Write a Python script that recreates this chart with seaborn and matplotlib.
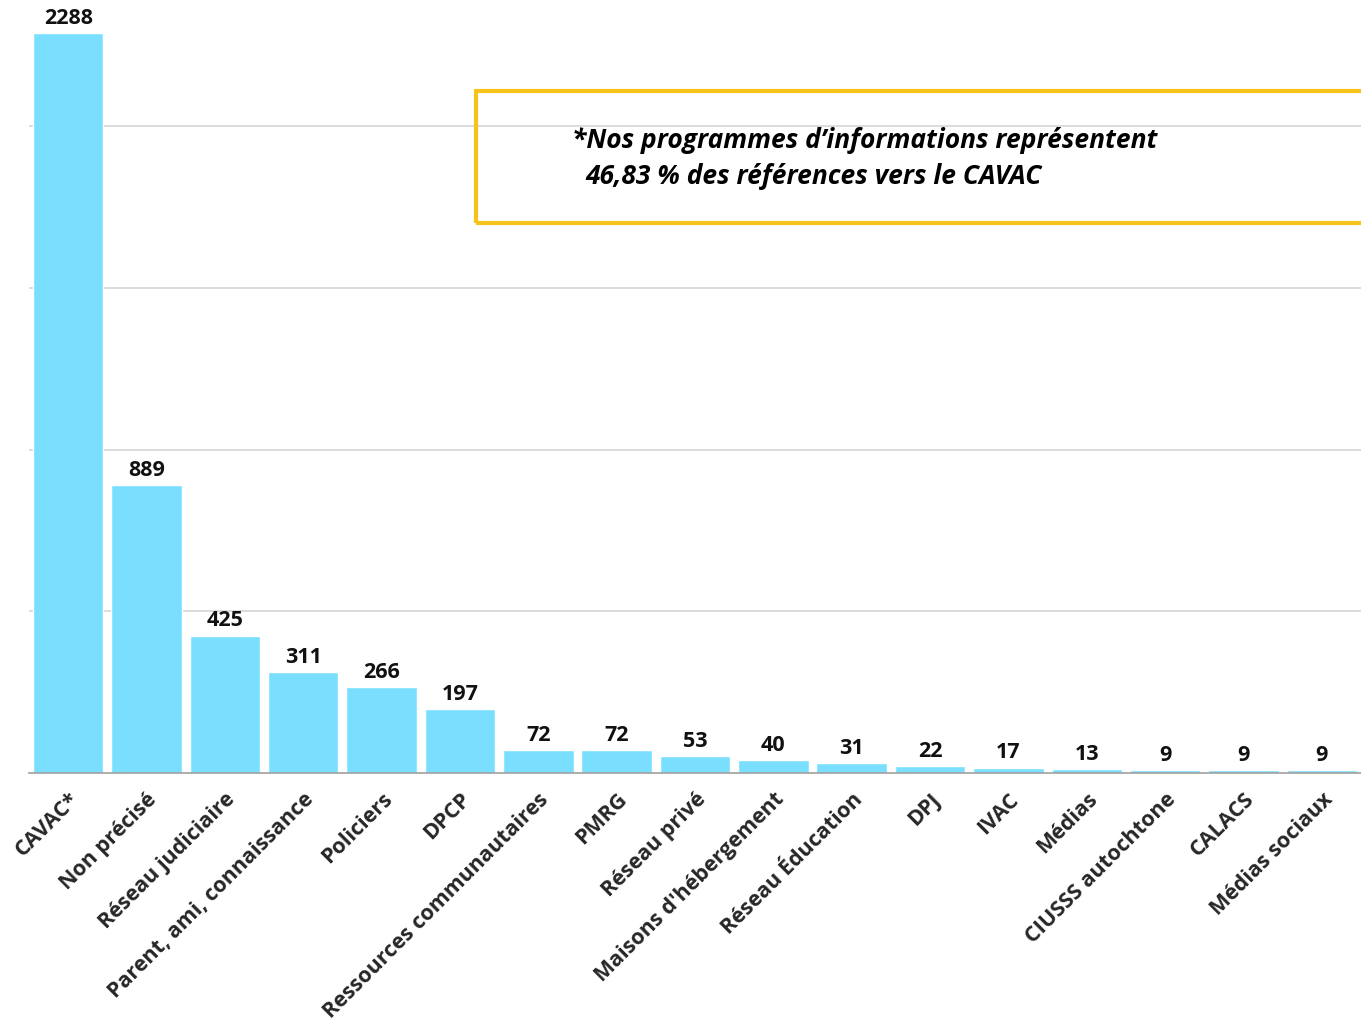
import matplotlib
matplotlib.use("Agg")
import matplotlib.pyplot as plt
import seaborn as sns
import pandas as pd
from matplotlib.patches import Rectangle

# data
categories = ["CAVAC*", "Non précisé", "Réseau judiciaire", "Parent, ami, connaissance",
              "Policiers", "DPCP", "Ressources communautaires", "PMRG", "Réseau privé",
              "Maisons d'hébergement", "Réseau Éducation", "DPJ", "IVAC", "Médias",
              "CIUSSS autochtone", "CALACS", "Médias sociaux"]
values = [2288, 889, 425, 311, 266, 197, 72, 72, 53, 40, 31, 22, 17, 13, 9, 9, 9]
note_line1 = "*Nos programmes d\u2019informations représentent"
note_line2 = "46,83 % des références vers le CAVAC"

df = pd.DataFrame({"source": categories, "n": values})

sns.set_style("white")
plt.rcParams["font.family"] = ["Open Sans", "DejaVu Sans"]

fig = plt.figure(figsize=(13.61, 10.19), dpi=100)
ax = fig.add_axes([29 / 1361, 246 / 1019, 1332 / 1361, 773 / 1019])

sns.barplot(data=df, x="source", y="n", color="#7ADFFE", saturation=1,
            width=0.9, ax=ax, zorder=3)

ax.set_ylim(0, 2390)
ax.set_xlim(-0.5, len(categories) - 0.5)
ax.set_yticks([500, 1000, 1500, 2000])
ax.yaxis.grid(True, color="#d6d6d6", linewidth=1.2, zorder=0)
ax.set_axisbelow(True)
ax.tick_params(axis="y", left=False, labelleft=False)
ax.tick_params(axis="x", bottom=False, pad=8)
for s in ["top", "right", "left"]:
    ax.spines[s].set_visible(False)
ax.spines["bottom"].set_color("#a0a0a0")
ax.spines["bottom"].set_linewidth(1.2)
ax.spines["bottom"].set_zorder(4)
ax.set_xlabel("")
ax.set_ylabel("")

ax.set_xticks(range(len(categories)))
ax.set_xticklabels(categories, rotation=45, ha="right", rotation_mode="anchor",
                   fontsize=15.5, fontweight="bold")

for c in ax.containers:
    ax.bar_label(c, labels=[str(v) for v in values], padding=3,
                 fontsize=15.5, fontweight="bold", color="#111111")

# note box
fig.patches.append(Rectangle((476 / 1361, 1 - 223 / 1019), 0.7, 132 / 1019,
                             transform=fig.transFigure, fill=False,
                             edgecolor="#F7C31A", linewidth=3, zorder=5))
fig.text(572 / 1361, 1 - 140 / 1019, note_line1, fontsize=19, fontweight="bold",
         fontstyle="italic", va="center", ha="left", color="black")
fig.text(585 / 1361, 1 - 176 / 1019, note_line2, fontsize=19, fontweight="bold",
         fontstyle="italic", va="center", ha="left", color="black")

fig.savefig("out.png", dpi=100)
